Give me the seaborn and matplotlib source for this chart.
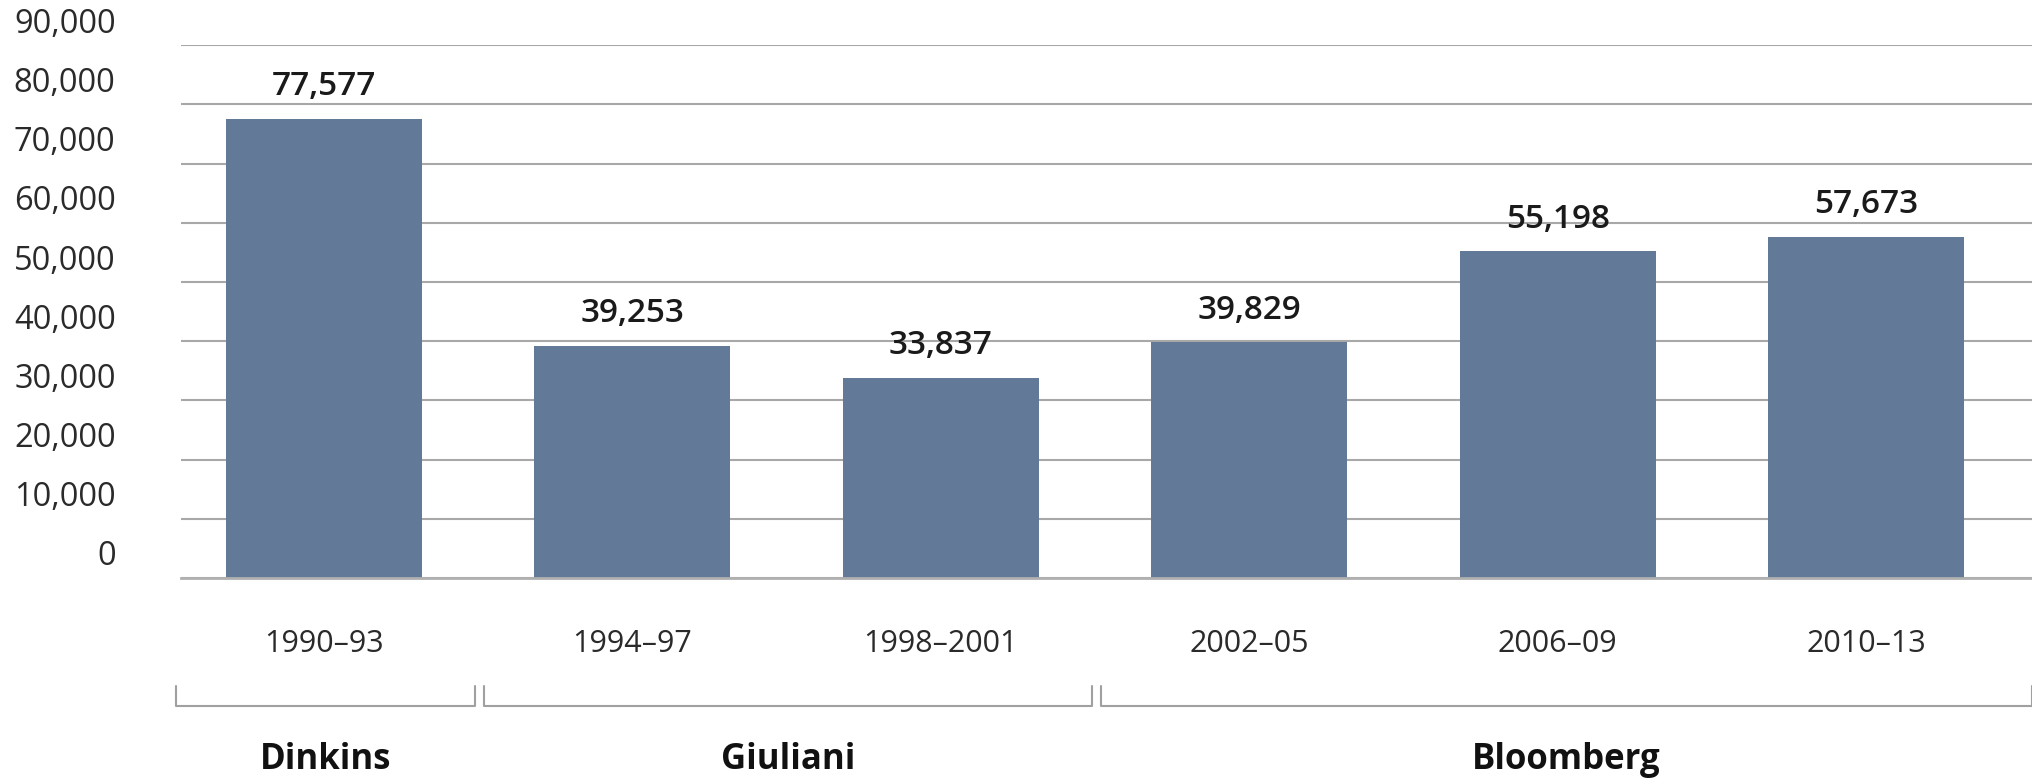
import matplotlib
matplotlib.use("Agg")
import matplotlib.pyplot as plt
import matplotlib.transforms as mtransforms
import pandas as pd
import seaborn as sns

periods = ["1990–93", "1994–97", "1998–2001", "2002–05", "2006–09", "2010–13"]
values = [77577, 39253, 33837, 39829, 55198, 57673]
mayors = ["Dinkins", "Giuliani", "Bloomberg"]
mayor_first = [0, 1, 3]
mayor_last = [0, 2, 5]
yticks = list(range(0, 90001, 10000))

sns.set_style("white")
plt.rcParams["font.family"] = ["Open Sans", "DejaVu Sans"]

fig = plt.figure(figsize=(20.32, 7.8), dpi=100)
ax = fig.add_axes([0.089, 0.259, 0.911, 0.683])

df = pd.DataFrame({"period": periods, "value": values})
sns.barplot(data=df, x="period", y="value", color="#627a98", saturation=1,
            width=0.636, linewidth=0, ax=ax)

ax.set_xlim(-0.464, 5.538)
ax.set_ylim(0, 90000)
ax.set_yticks(yticks)
ax.set_yticklabels([f"{v:,}" for v in yticks])
ax.yaxis.grid(True, color="#a8a8a8", lw=1.5)
ax.set_axisbelow(True)
ax.set_xlabel("")
ax.set_ylabel("")

for s in ["top", "right", "left"]:
    ax.spines[s].set_visible(False)
ax.spines["bottom"].set_color("#b0b0b0")
ax.spines["bottom"].set_linewidth(2)

ax.tick_params(axis="y", length=0, pad=47, labelsize=23.5, labelcolor="#2a2a2a")
ax.tick_params(axis="x", length=0, pad=37, labelsize=22, labelcolor="#2a2a2a")

# y labels sit a bit above their gridlines in the original
shift = mtransforms.ScaledTranslation(0, 0.25, fig.dpi_scale_trans)
for lab in ax.get_yticklabels():
    lab.set_transform(lab.get_transform() + shift)

ax.bar_label(ax.containers[0], labels=[f"{v:,}" for v in values], padding=11,
             fontsize=24, fontweight="semibold", color="#1a1a1a")

# mayor brackets under the period labels
trans = mtransforms.blended_transform_factory(ax.transData, ax.transAxes)
for name, a, b in zip(mayors, mayor_first, mayor_last):
    x0 = a - 0.48
    x1 = b + 0.49 if b < len(periods) - 1 else ax.get_xlim()[1]
    ax.plot([x0, x0, x1, x1], [-0.203, -0.240, -0.240, -0.203], transform=trans,
            clip_on=False, color="#a0a0a0", lw=1.5)
    ax.text((x0 + x1) / 2, -0.342, name, transform=trans, ha="center", va="center",
            fontsize=25, fontweight="bold", color="#111111")

fig.savefig("out.png", dpi=100)
